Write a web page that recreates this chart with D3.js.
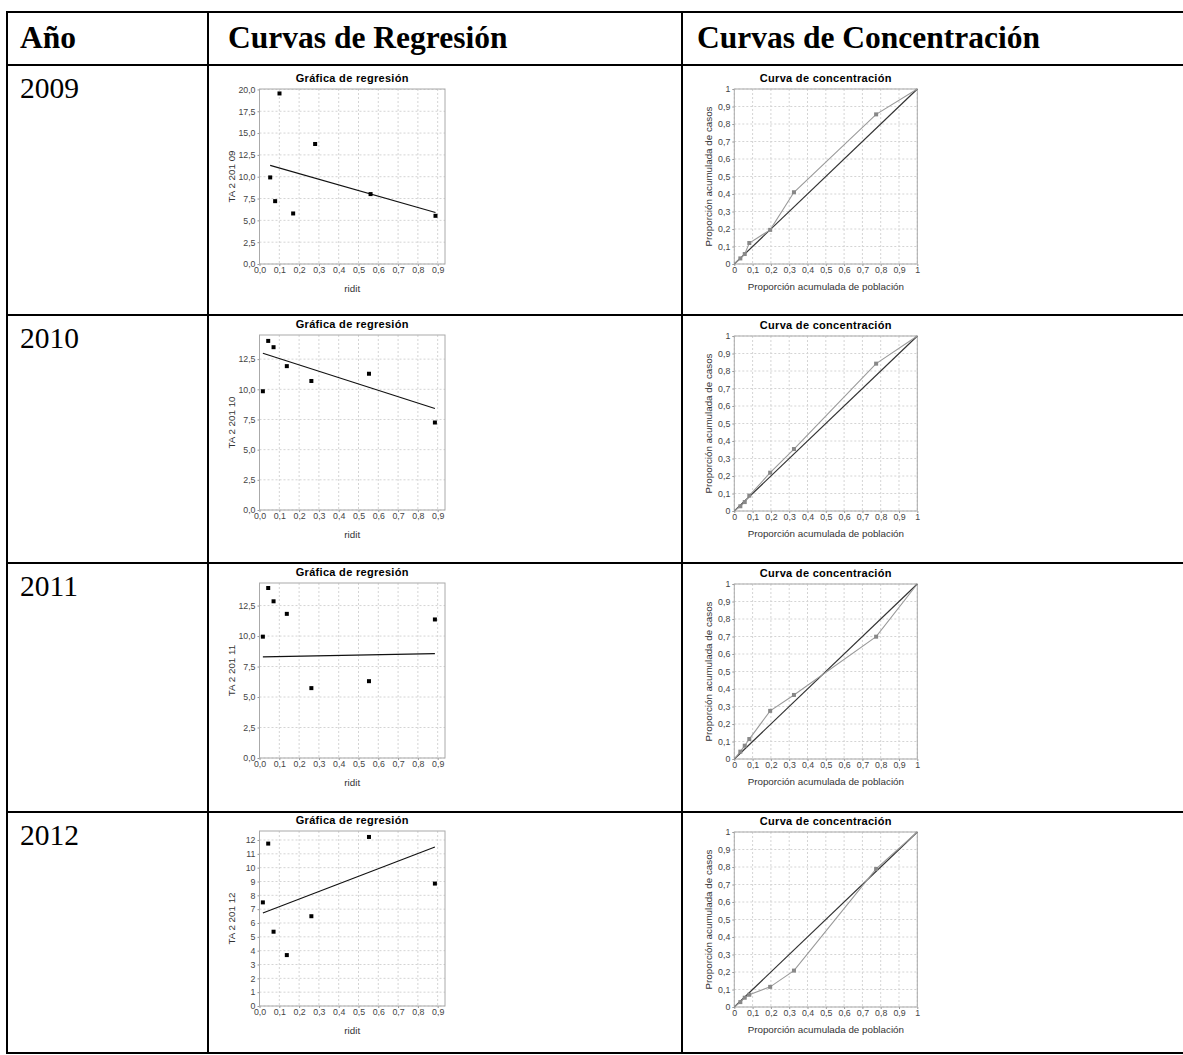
<!DOCTYPE html>
<html>
<head>
<meta charset="utf-8">
<script src="https://cdn.jsdelivr.net/npm/d3@7"></script>
<style>
  body { margin: 0; background: #fff; }
  svg { display: block; }
</style>
</head>
<body>
<div id="table-chart"></div>
<script>
// Table content
const headers = ["Año", "Curvas de Regresión", "Curvas de Concentración"];
const years = ["2009", "2010", "2011", "2012"];

// Regression charts: ridit on x, TA value on y
const ridit2009 = [0.054, 0.079, 0.101, 0.170, 0.281, 0.561, 0.889];
const ridit = [0.017, 0.044, 0.071, 0.138, 0.262, 0.553, 0.886];
const ta2009 = [9.92, 7.20, 19.54, 5.79, 13.75, 8.01, 5.52];
const ta2010 = [9.84, 14.01, 13.49, 11.92, 10.69, 11.29, 7.25];
const ta2011 = [9.95, 13.94, 12.85, 11.82, 5.73, 6.30, 11.36];
const ta2012 = [7.49, 11.74, 5.37, 3.68, 6.49, 12.22, 8.85];
// fitted line value at first and last ridit
const fit2009 = [11.30, 5.90];
const fit2010 = [12.99, 8.41];
const fit2011 = [8.29, 8.56];
const fit2012 = [6.73, 11.50];
const yLabels = ["TA 2 201 09", "TA 2 201 10", "TA 2 201 11", "TA 2 201 12"];
const yMax = [20.05, 14.5, 14.35, 12.65];
const yStep = [2.5, 2.5, 2.5, 1];
const riditTicks = [0, 0.1, 0.2, 0.3, 0.4, 0.5, 0.6, 0.7, 0.8, 0.9];

// Concentration curves
const popCum = [0, 0.033, 0.057, 0.082, 0.196, 0.326, 0.775, 1];
const cases2009 = [0, 0.032, 0.057, 0.120, 0.195, 0.410, 0.855, 1];
const cases2010 = [0, 0.027, 0.051, 0.088, 0.219, 0.354, 0.842, 1];
const cases2011 = [0, 0.042, 0.076, 0.114, 0.275, 0.366, 0.699, 1];
const cases2012 = [0, 0.028, 0.053, 0.070, 0.115, 0.208, 0.789, 1];
const propTicks = [0, 0.1, 0.2, 0.3, 0.4, 0.5, 0.6, 0.7, 0.8, 0.9, 1];

const regData = [
  {x: ridit2009, y: ta2009, fit: fit2009},
  {x: ridit, y: ta2010, fit: fit2010},
  {x: ridit, y: ta2011, fit: fit2011},
  {x: ridit, y: ta2012, fit: fit2012}
];
const concData = [cases2009, cases2010, cases2011, cases2012];

// layout
const W = 1183, H = 1055;
const hLines = [12, 65, 315, 563, 812, 1053];
const vLines = [7, 208, 682];
const rowTops = [65, 315, 563, 812];
const regTops = [89, 335, 583, 831];
const concTops = [89, 336, 584, 832];
const sansFont = "'Liberation Sans', Arial, sans-serif";
const serifFont = "'Liberation Serif', 'Times New Roman', serif";

const svg = d3.select("#table-chart")
  .append("svg")
  .attr("width", W)
  .attr("height", H);

// table borders
svg.selectAll(".hline")
  .data(hLines)
  .enter().append("line")
  .attr("x1", 6).attr("x2", W)
  .attr("y1", d => d).attr("y2", d => d)
  .attr("stroke", "#000").attr("stroke-width", 2);

svg.selectAll(".vline")
  .data(vLines)
  .enter().append("line")
  .attr("x1", d => d).attr("x2", d => d)
  .attr("y1", 11).attr("y2", 1054)
  .attr("stroke", "#000").attr("stroke-width", 2);

// header texts
const headerX = [20, 228, 697];
svg.selectAll(".header")
  .data(headers)
  .enter().append("text")
  .attr("x", (d, i) => headerX[i])
  .attr("y", 48)
  .attr("font-family", serifFont)
  .attr("font-weight", "bold")
  .attr("font-size", 31.5)
  .text(d => d);

svg.selectAll(".year")
  .data(years)
  .enter().append("text")
  .attr("x", 20)
  .attr("y", (d, i) => rowTops[i] + 33)
  .attr("font-family", serifFont)
  .attr("font-size", 29.5)
  .text(d => d);

function commaFmt(digits) {
  const f = d3.format("." + digits + "f");
  return v => f(v).replace(".", ",");
}

function styleAxis(ax) {
  ax.select(".domain").remove();
  ax.selectAll(".tick line").attr("stroke", "#999");
  ax.selectAll(".tick text")
    .attr("font-family", sansFont)
    .attr("font-size", 8.8)
    .attr("fill", "#444");
}

function drawFrame(g, x, y, xTicks, yTicks, w, h) {
  g.append("rect")
   .attr("width", w).attr("height", h)
   .attr("fill", "#fff");

  // dashed grid
  g.selectAll(".vgrid")
   .data(xTicks)
   .enter().append("line")
   .attr("x1", d => x(d)).attr("x2", d => x(d))
   .attr("y1", 0).attr("y2", h)
   .attr("stroke", "#d4d4d4")
   .attr("stroke-dasharray", "2,2");
  g.selectAll(".hgrid")
   .data(yTicks)
   .enter().append("line")
   .attr("x1", 0).attr("x2", w)
   .attr("y1", d => y(d)).attr("y2", d => y(d))
   .attr("stroke", "#d4d4d4")
   .attr("stroke-dasharray", "2,2");
}

function drawTitle(g, w, text) {
  g.append("text")
   .attr("x", w / 2)
   .attr("y", -11)
   .attr("dy", "0.35em")
   .attr("text-anchor", "middle")
   .attr("font-family", sansFont)
   .attr("font-weight", "bold")
   .attr("font-size", 11)
   .attr("letter-spacing", 0.3)
   .text(text);
}

function axisLabels(g, w, h, xText, yText, xOff, yOff) {
  g.append("text")
   .attr("x", w / 2)
   .attr("y", h + xOff)
   .attr("dy", "0.35em")
   .attr("text-anchor", "middle")
   .attr("font-family", sansFont)
   .attr("font-size", 9.8)
   .attr("fill", "#333")
   .text(xText);
  g.append("text")
   .attr("transform", `translate(${-yOff},${h / 2}) rotate(-90)`)
   .attr("dy", "0.35em")
   .attr("text-anchor", "middle")
   .attr("font-family", sansFont)
   .attr("font-size", 9.8)
   .attr("fill", "#333")
   .text(yText);
}

// Regression charts
regData.forEach((d, i) => {
  const w = 185.5, h = 175;
  const g = svg.append("g")
    .attr("transform", `translate(259.5,${regTops[i]})`);

  const x = d3.scaleLinear().domain([0, 0.937]).range([0, w]);
  const y = d3.scaleLinear().domain([0, yMax[i]]).range([h, 0]);
  const yTicks = d3.range(0, yMax[i] + 1e-6, yStep[i]);
  const yFmt = (yStep[i] % 1 !== 0) ? commaFmt(1) : d3.format("d");

  drawFrame(g, x, y, riditTicks, yTicks, w, h);

  const yAxis = g.append("g")
    .call(d3.axisLeft(y).tickValues(yTicks)
      .tickFormat(yFmt)
      .tickSizeInner(2).tickSizeOuter(0).tickPadding(2));
  styleAxis(yAxis);

  const xAxis = g.append("g")
    .attr("transform", `translate(0,${h})`)
    .call(d3.axisBottom(x).tickValues(riditTicks)
      .tickFormat(commaFmt(1))
      .tickSizeInner(2).tickSizeOuter(0).tickPadding(1));
  styleAxis(xAxis);

  g.append("rect")
   .attr("width", w).attr("height", h)
   .attr("fill", "none")
   .attr("stroke", "#aaa");

  // regression line
  const n = d.x.length;
  g.append("line")
   .attr("x1", x(d.x[0])).attr("y1", y(d.fit[0]))
   .attr("x2", x(d.x[n - 1])).attr("y2", y(d.fit[1]))
   .attr("stroke", "#111")
   .attr("stroke-width", 1.1);

  g.selectAll(".pt")
   .data(d.y)
   .enter().append("rect")
   .attr("x", (v, j) => x(d.x[j]) - 2)
   .attr("y", v => y(v) - 2)
   .attr("width", 4).attr("height", 4)
   .attr("fill", "#000");

  drawTitle(g, w, "Gráfica de regresión");
  axisLabels(g, w, h, "ridit", yLabels[i], 25, 28);
});

// Concentration charts
concData.forEach((cases, i) => {
  const w = 183, h = 175;
  const g = svg.append("g")
    .attr("transform", `translate(734.3,${concTops[i]})`);

  const x = d3.scaleLinear().domain([0, 1]).range([0, w]);
  const y = d3.scaleLinear().domain([0, 1]).range([h, 0]);

  drawFrame(g, x, y, propTicks, propTicks, w, h);

  const fmt = v => (v === 0 || v === 1) ? String(v) : commaFmt(1)(v);
  const yAxis = g.append("g")
    .call(d3.axisLeft(y).tickValues(propTicks).tickFormat(fmt)
      .tickSizeInner(2).tickSizeOuter(0).tickPadding(2));
  styleAxis(yAxis);
  const xAxis = g.append("g")
    .attr("transform", `translate(0,${h})`)
    .call(d3.axisBottom(x).tickValues(propTicks).tickFormat(fmt)
      .tickSizeInner(2).tickSizeOuter(0).tickPadding(1));
  styleAxis(xAxis);

  g.append("rect")
   .attr("width", w).attr("height", h)
   .attr("fill", "none")
   .attr("stroke", "#aaa");

  // equality diagonal
  g.append("line")
   .attr("x1", x(0)).attr("y1", y(0))
   .attr("x2", x(1)).attr("y2", y(1))
   .attr("stroke", "#333")
   .attr("stroke-width", 1.2);

  const pts = popCum.map((p, j) => [p, cases[j]]);
  g.append("path")
   .datum(pts)
   .attr("d", d3.line().x(p => x(p[0])).y(p => y(p[1])))
   .attr("fill", "none")
   .attr("stroke", "#9a9a9a")
   .attr("stroke-width", 1.1);

  g.selectAll(".mk")
   .data(pts.slice(1, -1))
   .enter().append("rect")
   .attr("x", p => x(p[0]) - 2)
   .attr("y", p => y(p[1]) - 2)
   .attr("width", 4).attr("height", 4)
   .attr("fill", "#888");

  drawTitle(g, w, "Curva de concentración");
  axisLabels(g, w, h, "Proporción acumulada de población", "Proporción acumulada de casos", 23, 26);
});
</script>
</body>
</html>
